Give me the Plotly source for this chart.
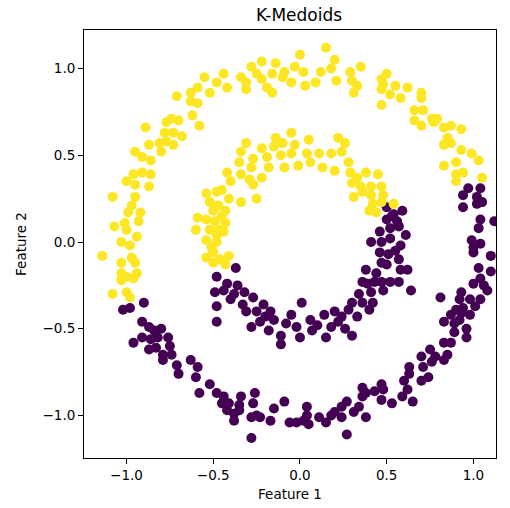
import plotly.graph_objects as go

# Cluster 1 (yellow): upper part of the outer ring and upper/left part of the inner ring
c1_x = [
    -0.55, -0.44, -0.48, -0.63, -0.59, -0.52, -0.71, -0.63, -0.59, -0.62, -0.74, -0.70, -0.77, -0.58,
    -0.89, -0.78, -0.73, -0.68,
    -0.95, -0.87, -0.81, -0.77, -0.73, -0.91, -0.86, -0.80, -1.00, -0.96, -0.91, -0.86, -0.95, -0.87,
    -1.08, -0.95, -0.97, -0.99, -0.92, -0.93, -1.07, -1.01, -1.00, -0.94, -1.03, -0.98,
    -1.14, -1.03, -0.97, -0.95, -1.03, -1.00, -0.94, -1.03, -0.96, -1.08, -1.00, -0.98,
    -0.42, -0.34, -0.31, -0.31, -0.28, -0.22, -0.25, -0.22, -0.19, -0.16, -0.16, -0.14, -0.10, -0.09,
    -0.05, -0.03, 0.00, 0.02, 0.03, 0.09, 0.12, 0.15, 0.18, 0.20, 0.21, 0.29, 0.30, 0.31, 0.35, 0.33,
    0.50, 0.47, 0.48, 0.55, 0.47, 0.52, 0.58, 0.62, 0.47, 0.70, 0.70, 0.66, 0.71, 0.66, 0.70, 0.76,
    0.79, 0.77, 0.83, 0.87, 0.93, 0.85,
    0.83, 0.87, 0.93, 0.99, 1.03, 0.83, 0.90, 0.90, 0.94, 0.90, 1.05,
    -0.31, -0.22, -0.15, -0.10, -0.03, 0.05, -0.34, -0.27, -0.19, -0.11, -0.05, 0.04, 0.11, 0.18,
    0.24, 0.26, -0.35, -0.28, -0.18, -0.09, -0.01, 0.06, 0.13, 0.20, 0.28, -0.42, -0.34, -0.22,
    -0.40, -0.29, -0.27, 0.29, 0.30, 0.35, 0.31, -0.41, -0.34, -0.25, -0.43, -0.43, -0.44,
    -0.14, -0.05, 0.22,
    0.38, 0.45, 0.41, 0.47, 0.41, 0.48, 0.47, 0.54, 0.40, 0.44,
    -0.54, -0.48, -0.52, -0.47, -0.59, -0.54, -0.49, -0.60, -0.52, -0.47, -0.54, -0.48, -0.51,
    -0.41, -0.43, -0.54, -0.50,
    -0.45, -0.50, -0.45, -0.50, -0.46, -0.48, 0.33, 0.36, 0.42,
]
c1_y = [
    0.95, 0.97, 0.92, 0.86, 0.89, 0.86, 0.84, 0.81, 0.80, 0.73, 0.71, 0.70, 0.69, 0.67,
    0.66, 0.63, 0.63, 0.61,
    0.52, 0.56, 0.57, 0.58, 0.56, 0.49, 0.47, 0.52, 0.35, 0.39, 0.40, 0.39, 0.33, 0.32,
    0.26, 0.26, 0.21, 0.17, 0.17, 0.12, 0.09, 0.11, 0.07, 0.03, 0.00, -0.02,
    -0.08, -0.12, -0.09, -0.12, -0.18, -0.20, -0.18, -0.22, -0.21, -0.30, -0.29, -0.32,
    0.89, 0.95, 0.92, 0.88, 1.01, 1.04, 0.97, 0.94, 0.89, 0.86, 0.97, 1.03, 0.95, 0.98,
    0.92, 1.01, 1.08, 0.98, 0.90, 0.92, 0.98, 1.12, 1.00, 1.05, 0.93, 0.98, 0.93, 0.86, 1.01, 0.90,
    0.97, 0.94, 0.91, 0.90, 0.88, 0.85, 0.83, 0.89, 0.79, 0.86, 0.83, 0.76, 0.76, 0.70, 0.67, 0.71,
    0.71, 0.69, 0.66, 0.67, 0.65, 0.60,
    0.56, 0.57, 0.53, 0.51, 0.47, 0.44, 0.46, 0.39, 0.40, 0.35, 0.37,
    0.57, 0.54, 0.55, 0.57, 0.56, 0.59, 0.52, 0.48, 0.49, 0.50, 0.51, 0.51, 0.51, 0.51,
    0.52, 0.57, 0.46, 0.43, 0.43, 0.43, 0.44, 0.46, 0.43, 0.41, 0.46, 0.40, 0.39, 0.37,
    0.35, 0.36, 0.33, 0.40, 0.34, 0.32, 0.26, 0.25, 0.23, 0.25, 0.18, 0.11, 0.06,
    0.60, 0.63, 0.60,
    0.40, 0.39, 0.32, 0.32, 0.27, 0.27, 0.23, 0.22, 0.18, 0.17,
    0.28, 0.29, 0.23, 0.21, 0.14, 0.13, 0.12, 0.07, 0.07, 0.07, 0.01, 0.00, -0.03,
    -0.08, -0.13, -0.09, -0.12,
    0.30, 0.18, 0.15, -0.06, -0.10, 0.04, 0.37, 0.29, 0.22,
]

# Cluster 0 (purple): lower part of the outer ring and lower/right part of the inner ring
c0_x = [
    -0.90, -1.02, -0.98, -0.91, -0.87, -0.84, -0.80, -0.96, -0.91, -0.86, -0.82, -0.76, -0.87, -0.83,
    -0.79, -0.75, -0.74, -0.63,
    -0.79, -0.71, -0.70, -0.59, -0.60, -0.58, -0.52, -0.48, -0.45,
    -0.44, -0.41, -0.42, -0.38, -0.35, -0.34, -0.35, -0.38, -0.26, -0.27, -0.28, -0.25, -0.23, -0.28,
    -0.17, -0.15, -0.09, -0.06, -0.02, 0.02, 0.04, 0.05, 0.04, 0.11, 0.15, 0.18, 0.20, 0.24, 0.27,
    0.27, 0.24, 0.31, 0.34, 0.36, 0.36,
    0.38, 0.43, 0.38, 0.47, 0.48, 0.47, 0.53, 0.59, 0.62, 0.60, 0.63, 0.63, 0.65, 0.70, 0.71, 0.74,
    0.76, 0.83,
    1.00, 1.10, 1.03, 1.10, 1.04, 1.00, 1.06, 1.08, 0.81, 0.93, 0.98, 1.04, 0.92, 1.01, 0.94, 0.90,
    0.93, 0.98, 0.87, 0.83, 0.89, 0.92, 0.96, 0.89, 0.96, 0.83, 0.87, 0.75, 0.70, 0.78, 0.85,
    0.97, 1.04, 0.94, 1.02, 1.05, 0.94, 1.02, 1.04, 1.12, 1.03, 0.99, 1.04, 1.00,
    0.46, 0.51, 0.47, 0.50, 0.57, 0.58, 0.62, 0.39, 0.43, 0.47, 0.52, 0.57, 0.48, 0.41, 0.64, 0.42, 0.40,
    0.50, 0.59, 0.54, 0.50, 0.56, 0.52, 0.57, 0.61, 0.52, 0.41, 0.47, 0.58,
    -0.37, -0.42, -0.36, -0.32, -0.40, -0.27, -0.21, -0.31, -0.25, -0.17, -0.15, 0.01, -0.05, -0.28,
    -0.23, -0.18, -0.11, -0.11, -0.02, 0.00, 0.06, 0.07, 0.14, 0.18, 0.15, 0.22, 0.24, 0.30, 0.28,
    0.30, 0.33, 0.36, 0.36,
    -0.48, -0.49, -0.48, -0.48,
    -0.44, -0.38, -0.33, -0.20, -0.08, 0.10, 0.20, 0.26, 0.34, 0.38, 0.44, 0.46, 0.55, 0.53,
]
c0_y = [
    -0.35, -0.39, -0.38, -0.46, -0.49, -0.51, -0.50, -0.58, -0.55, -0.56, -0.55, -0.55, -0.62, -0.61,
    -0.65, -0.60, -0.65, -0.68,
    -0.68, -0.71, -0.76, -0.72, -0.78, -0.87, -0.82, -0.87, -0.93,
    -0.89, -0.93, -0.97, -0.99, -0.94, -0.89, -0.97, -1.03, -0.87, -0.93, -1.01, -1.00, -1.01, -1.13,
    -1.03, -0.96, -0.92, -1.04, -1.04, -1.03, -0.95, -1.05, -1.00, -1.01, -1.04, -1.00, -0.98, -0.95, -0.92,
    -1.11, -1.01, -0.98, -0.95, -0.84, -0.89,
    -0.87, -0.86, -1.01, -0.82, -0.85, -0.91, -0.93, -0.89, -0.85, -0.80, -0.76, -0.72, -0.92, -0.80, -0.72, -0.78,
    -0.69, -0.68,
    -0.06, -0.08, -0.15, -0.17, -0.21, -0.24, -0.25, -0.28, -0.32, -0.29, -0.33, -0.33, -0.33, -0.37, -0.38, -0.39,
    -0.41, -0.42, -0.42, -0.46, -0.47, -0.45, -0.50, -0.52, -0.55, -0.58, -0.58, -0.62, -0.66, -0.66, -0.65,
    0.31, 0.31, 0.27, 0.26, 0.23, 0.20, 0.22, 0.13, 0.12, 0.08, 0.01, -0.01, -0.03,
    -0.06, -0.07, -0.12, -0.13, -0.10, -0.16, -0.16, -0.24, -0.23, -0.23, -0.23, -0.23, -0.28, -0.29, -0.28, -0.35, -0.39,
    0.20, 0.18, 0.16, 0.13, 0.12, 0.08, 0.09, 0.04, 0.02, 0.00, 0.00, -0.02,
    -0.15, -0.24, -0.25, -0.29, -0.33, -0.32, -0.36, -0.40, -0.40, -0.40, -0.45, -0.35, -0.42, -0.49,
    -0.46, -0.51, -0.54, -0.59, -0.49, -0.55, -0.45, -0.51, -0.42, -0.49, -0.55, -0.46, -0.43, -0.54, -0.39,
    -0.35, -0.43, -0.23, -0.35,
    -0.20, -0.29, -0.37, -0.46,
    -0.28, -0.30, -0.36, -0.43, -0.47, -0.48, -0.40, -0.50, -0.30, -0.16, -0.18, 0.06, -0.05, 0.15,
]

xs = c0_x + c1_x
ys = c0_y + c1_y
labels = [0] * len(c0_x) + [1] * len(c1_x)

tick_vals = [-1.0, -0.5, 0.0, 0.5, 1.0]
tick_text = ["\u22121.0", "\u22120.5", "0.0", "0.5", "1.0"]

fig = go.Figure(
    go.Scatter(
        x=xs,
        y=ys,
        mode="markers",
        marker=dict(
            color=labels,
            colorscale="Viridis",
            cmin=0,
            cmax=1,
            size=10,
            line=dict(width=0),
        ),
        showlegend=False,
        hoverinfo="skip",
    )
)

axis_style = dict(
    showline=True,
    linecolor="black",
    linewidth=1,
    mirror=True,
    ticks="outside",
    ticklen=5,
    tickcolor="black",
    showgrid=False,
    zeroline=False,
    automargin=False,
    tickvals=tick_vals,
    ticktext=tick_text,
    tickfont=dict(family="DejaVu Sans", size=13.5, color="black"),
)

label_font = dict(family="DejaVu Sans", size=13.5, color="black")

fig.update_xaxes(
    range=[-1.245, 1.13],
    title=dict(text="Feature 1", font=label_font, standoff=7),
    **axis_style,
)
fig.update_yaxes(
    range=[-1.245, 1.222],
    title=dict(text="Feature 2", font=label_font, standoff=12),
    **axis_style,
)

fig.update_layout(
    width=510,
    height=508,
    margin=dict(l=84, r=14, t=30, b=50),
    paper_bgcolor="white",
    plot_bgcolor="white",
    title=dict(
        text="K-Medoids",
        x=299 / 510,
        xanchor="center",
        y=1 - 15 / 508,
        yanchor="middle",
        yref="container",
        font=dict(family="DejaVu Sans", size=17, color="black"),
    ),
)

fig.write_html("out.html")
